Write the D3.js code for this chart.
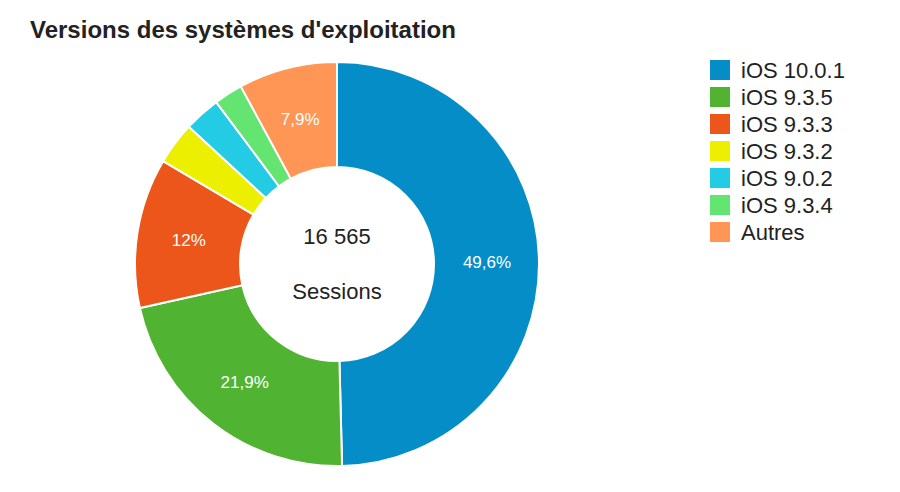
<!DOCTYPE html>
<html><head><meta charset="utf-8">
<script src="https://cdn.jsdelivr.net/npm/d3@7/dist/d3.min.js"></script>
<style>body{margin:0;background:#fff}svg{font-family:"Liberation Sans",Arial,sans-serif}</style>
</head><body><svg id="c" width="900" height="492"></svg>
<script>
const categories=["iOS 10.0.1","iOS 9.3.5","iOS 9.3.3","iOS 9.3.2","iOS 9.0.2","iOS 9.3.4","Autres"];
const values=[49.6,21.9,12,3.4,2.9,2.3,7.9];
const labels=["49,6%","21,9%","12%","","","","7,9%"];
const colors=["#058dc7","#50b432","#ed561b","#edef00","#24cbe5","#64e572","#ff9655"];
const svg=d3.select("#c");
svg.append("text").attr("x",30).attr("y",38).attr("font-size",24).attr("font-weight","bold").attr("fill","#222").text("Versions des systèmes d'exploitation");
const cx=337,cy=264,R=202,r=97;
const pie=d3.pie().sort(null).value(d=>d)(values);
const arc=d3.arc().innerRadius(r).outerRadius(R);
const la=d3.arc().innerRadius(150).outerRadius(150);
const g=svg.append("g").attr("transform",`translate(${cx},${cy})`);
g.selectAll("path").data(pie).join("path").attr("d",arc).attr("fill",(d,i)=>colors[i]).attr("stroke","#fff").attr("stroke-width",2);
g.selectAll("text.l").data(pie).join("text").attr("class","l").attr("transform",d=>`translate(${la.centroid(d)})`).attr("text-anchor","middle").attr("dy","0.35em").attr("font-size",17).attr("fill","#fff").text((d,i)=>labels[i]);
g.append("text").attr("text-anchor","middle").attr("y",-20).attr("font-size",22).attr("fill","#222").text("16 565");
g.append("text").attr("text-anchor","middle").attr("y",35).attr("font-size",22).attr("fill","#222").text("Sessions");
const lg=svg.append("g").attr("transform","translate(710,60)");
categories.forEach((c,i)=>{
 lg.append("rect").attr("x",0).attr("y",i*27).attr("width",20).attr("height",20).attr("fill",colors[i]);
 lg.append("text").attr("x",31).attr("y",i*27+18).attr("font-size",22).attr("fill","#222").text(c);
});
</script></body></html>
